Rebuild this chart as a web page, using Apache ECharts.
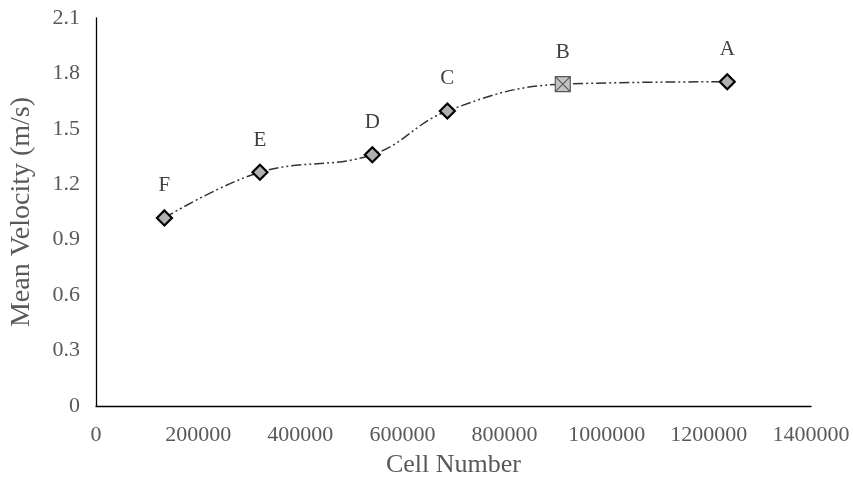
<!DOCTYPE html>
<html>
<head>
<meta charset="utf-8">
<script src="https://cdn.jsdelivr.net/npm/echarts@6/dist/echarts.min.js"></script>
<style>
  html, body { margin: 0; padding: 0; background: #fff; }
  #chart { width: 853px; height: 488px; }
</style>
</head>
<body>
<div id="chart"></div>
<script>
// Mesh study: mean velocity for each grid (F coarsest ... A finest)
const pointNames = ['F', 'E', 'D', 'C', 'B', 'A'];
const cellNumbers = [134000, 321000, 541000, 688000, 914000, 1236000];
const meanVelocity = [1.018, 1.265, 1.36, 1.597, 1.742, 1.755];
const selectedGrid = 'B';

const xTicks = { min: 0, max: 1400000, interval: 200000 };
const yTicks = { min: 0, max: 2.1, interval: 0.3 };

const serif = '"Liberation Serif", "Times New Roman", serif';
const textGray = '#595959';

// square with a cross, used for the chosen grid
const crossBox = 'path://M0,0L10,0L10,10L0,10Z M0,0L10,10 M10,0L0,10';

const points = cellNumbers.map((x, i) => {
  const isSelected = pointNames[i] === selectedGrid;
  return {
    value: [x, meanVelocity[i]],
    name: pointNames[i],
    symbol: isSelected ? crossBox : 'diamond',
    symbolSize: [15, 15],
    itemStyle: isSelected
      ? { color: '#c4c4c4', borderColor: '#595959', borderWidth: 1.2 }
      : { color: '#b0b0b0', borderColor: '#000', borderWidth: 2.2 }
  };
});

const chart = echarts.init(document.getElementById('chart'), null, { renderer: 'canvas' });
chart.setOption({
  animation: false,
  backgroundColor: '#fff',
  grid: { left: 96, right: 42, top: 18, bottom: 82, containLabel: false, outerBoundsMode: 'none' },
  xAxis: {
    type: 'value',
    min: xTicks.min, max: xTicks.max, interval: xTicks.interval,
    name: 'Cell Number',
    nameLocation: 'middle',
    nameGap: 46,
    nameTextStyle: { fontFamily: serif, fontSize: 26, color: textGray },
    axisLine: { lineStyle: { color: '#000', width: 1.3 } },
    axisTick: { show: false },
    splitLine: { show: false },
    axisLabel: {
      fontFamily: serif, fontSize: 22, color: textGray, margin: 18,
      formatter: v => String(v)
    }
  },
  yAxis: {
    type: 'value',
    min: yTicks.min, max: yTicks.max, interval: yTicks.interval,
    name: 'Mean Velocity (m/s)',
    nameLocation: 'middle',
    nameGap: 60,
    nameTextStyle: { fontFamily: serif, fontSize: 28, color: textGray },
    axisLine: { show: true, lineStyle: { color: '#000', width: 1.3 } },
    axisTick: { show: false },
    splitLine: { show: false },
    axisLabel: {
      fontFamily: serif, fontSize: 22, color: textGray, margin: 16,
      formatter: v => (v === 0 ? '0' : v.toFixed(1))
    }
  },
  series: [{
    type: 'line',
    smooth: 0.4,
    data: points,
    lineStyle: { color: '#333', width: 1.5, type: [10, 3, 2, 3, 2, 3] },
    label: {
      show: true,
      position: 'top',
      distance: 13,
      formatter: p => p.name,
      fontFamily: serif,
      fontSize: 21,
      color: '#404040'
    }
  }]
});
</script>
</body>
</html>
